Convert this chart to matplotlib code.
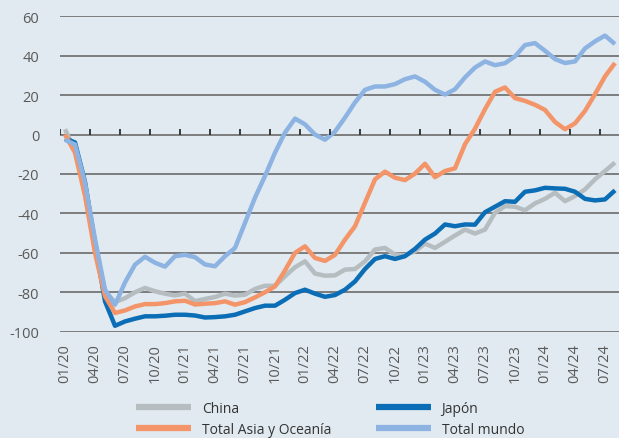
import matplotlib
matplotlib.use("Agg")
import matplotlib.pyplot as plt

months = ["01/20","02/20","03/20","04/20","05/20","06/20","07/20","08/20","09/20","10/20","11/20","12/20",
          "01/21","02/21","03/21","04/21","05/21","06/21","07/21","08/21","09/21","10/21","11/21","12/21",
          "01/22","02/22","03/22","04/22","05/22","06/22","07/22","08/22","09/22","10/22","11/22","12/22",
          "01/23","02/23","03/23","04/23","05/23","06/23","07/23","08/23","09/23","10/23","11/23","12/23",
          "01/24","02/24","03/24","04/24","05/24","06/24","07/24","08/24"]

china = [2.7, -8, -30, -58, -79.5, -85, -83, -80, -77.8, -79.5, -80.7, -81.6,
         -80.7, -84.5, -83.4, -82.4, -80.7, -81.7, -81.2, -78.3, -76.7, -76.7, -71.9, -67.3,
         -64.3, -70.5, -71.6, -71.4, -68.5, -68.2, -64.3, -58.3, -57.5, -60.9, -61.2, -59.2,
         -55.3, -57.5, -54.4, -51.2, -48.2, -50.2, -48.2, -39.7, -36.3, -36.6, -38.4, -34.9,
         -32.6, -29.5, -33.8, -31.2, -27.8, -22.7, -18.5, -14.2]

japon = [-2, -4, -24, -55, -84.6, -97, -94.8, -93.4, -92.2, -92.2, -91.9, -91.4,
         -91.4, -91.8, -92.8, -92.6, -92.2, -91.4, -89.7, -88, -86.8, -86.8, -83.8, -80.4,
         -78.7, -80.7, -82.3, -81.4, -78.7, -74.5, -68.2, -63.1, -61.7, -63.1, -61.7, -58,
         -53.3, -50.2, -45.6, -46.5, -45.6, -45.7, -39.4, -36.6, -33.8, -34.1, -29, -28.3,
         -27, -27.3, -27.5, -29, -32.6, -33.4, -32.9, -28.3]

asia = [0, -9.2, -31, -60, -82, -90.5, -89.2, -87.2, -86, -86, -85.5, -84.6,
        -84.3, -86.2, -85.8, -85.5, -84.6, -86.3, -85, -82.6, -80, -77, -68.9, -60,
        -56.7, -62.6, -64.1, -61, -53.3, -46.5, -34.6, -22.7, -18.8, -21.9, -23.1, -19.8,
        -14.8, -21.6, -18.5, -17.1, -4.9, 3, 12.9, 21.7, 23.9, 18.5, 17.1, 15.1,
        12.5, 6.4, 2.7, 5.7, 12, 20.5, 29.5, 36.3]

mundo = [-2.7, -5, -24.4, -53, -78.6, -86.3, -75, -66, -62, -65, -67, -61.7,
         -61, -62.2, -65.9, -66.8, -61.7, -57.5, -44.8, -32, -21, -9.2, 1, 8.1,
         5.2, 0, -2.6, 1.5, 8.6, 16.3, 22.7, 24.4, 24.4, 25.6, 28.1, 29.5,
         26.8, 22.7, 20.3, 23, 29, 34, 37.1, 35.2, 36.2, 39.7, 45.4, 46.4,
         42.5, 38.3, 36.3, 37.1, 43.7, 47.3, 50.2, 45.9]

series_names = ["China", "Japón", "Total Asia y Oceanía", "Total mundo"]
series_colors = ["#b5bdc0", "#0b6db5", "#f39568", "#8cb3e2"]
yticks = [-100, -80, -60, -40, -20, 0, 20, 40, 60]

bg = "#e1eaf0"
txt = "#595959"
plt.rcParams['font.family'] = ['Open Sans', 'DejaVu Sans']

fig = plt.figure(figsize=(6.19, 4.39), dpi=100, facecolor=bg)
ax = fig.add_axes([60/619, 1 - 332.7/439, 560/619, (332.7 - 17.3)/439])
ax.set_facecolor(bg)

x = list(range(len(months)))
ymin, ymax = -100, 60

lines = []
for name, data, col in zip(series_names, [china, japon, asia, mundo], series_colors):
    ln, = ax.plot(x, data, color=col, lw=3.2, solid_joinstyle='round', solid_capstyle='butt', label=name, zorder=3)
    lines.append(ln)

ax.set_xlim(-0.5, len(months) - 0.5)
ax.set_ylim(ymin, ymax)
ax.set_yticks(yticks)
ax.set_yticklabels([str(v) for v in yticks])
ax.yaxis.grid(True, color="#5f5f5f", lw=1.1)
ax.set_axisbelow(True)
for s in ax.spines.values():
    s.set_visible(False)
ax.tick_params(axis='y', length=0, pad=15, labelsize=10.5, labelcolor=txt)

xt = list(range(0, len(months), 3))
ax.set_xticks(xt)
ax.set_xticklabels([months[i] for i in xt], rotation=90)
ax.tick_params(axis='x', length=0, pad=8, labelsize=10.5, labelcolor=txt)

# small upward tick marks on the zero line, between categories every 3 months
tick_pos = [i - 0.5 for i in range(0, len(months), 3)]
ax.vlines(tick_pos, 0, 3.0, colors="#2e2e2e", linewidth=1.3, zorder=4)

order = [0, 2, 1, 3]
leg = fig.legend([lines[i] for i in order], [series_names[i] for i in order],
                 ncol=2, loc='center', bbox_to_anchor=(0.533, 0.043), frameon=False,
                 handlelength=4.0, handletextpad=0.75, columnspacing=3.2, labelspacing=0.45,
                 fontsize=10, labelcolor="#333333")
for h in leg.get_lines():
    h.set_linewidth(4.5)

fig.savefig("out.png", dpi=100, facecolor=bg)
